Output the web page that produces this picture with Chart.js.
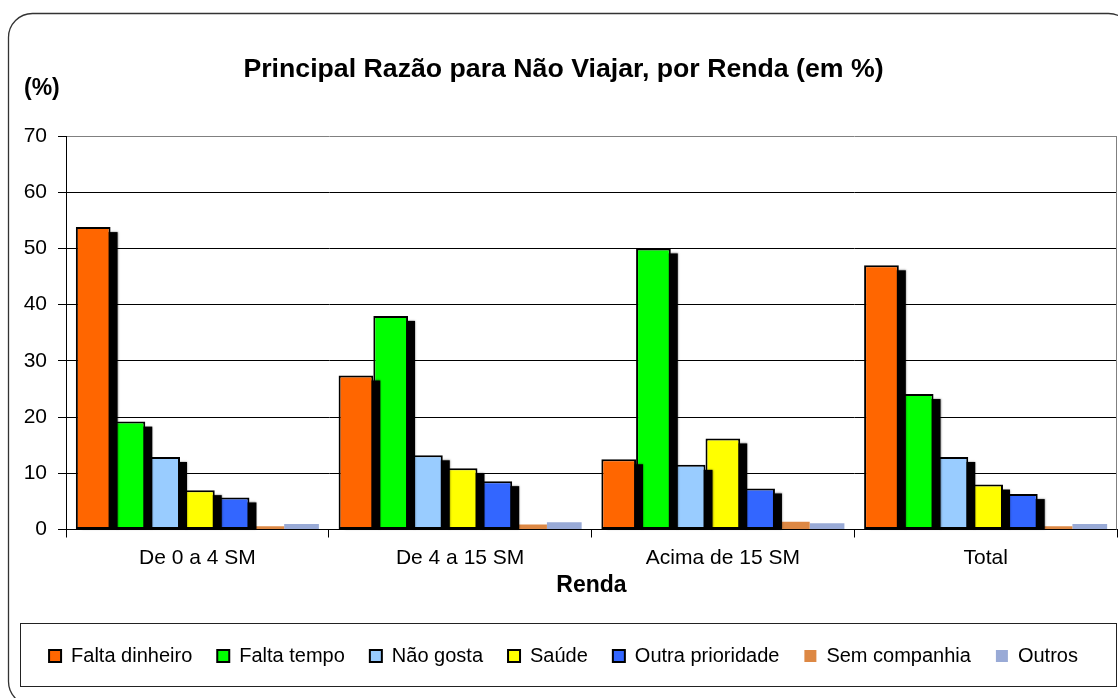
<!DOCTYPE html>
<html>
<head>
<meta charset="utf-8">
<script src="https://cdn.jsdelivr.net/npm/chart.js@4.4.1/dist/chart.umd.min.js"></script>
<style>
html,body{margin:0;padding:0;background:#fff;}
canvas{display:block;}
</style>
</head>
<body>
<canvas id="c" width="1118" height="698"></canvas>
<script>
const categories = ['De 0 a 4 SM', 'De 4 a 15 SM', 'Acima de 15 SM', 'Total'];
const faltaDinheiro   = [53.8, 27.4, 12.5, 47.0];
const faltaTempo      = [19.2, 38.0, 50.0, 24.1];
const naoGosta        = [12.9, 13.2, 11.5, 12.9];
const saude           = [7.0, 10.9, 16.2, 8.0];
const outraPrioridade = [5.7, 8.6, 7.3, 6.3];
const semCompanhia    = [0.6, 0.9, 1.4, 0.6];
const outros          = [1.0, 1.3, 1.1, 1.0];
const yTicks = [0, 10, 20, 30, 40, 50, 60, 70];

const FONT = "'Liberation Sans', Arial, sans-serif";

function ds(label, data, color, bordered) {
  return {
    label, data,
    backgroundColor: color,
    borderColor: bordered ? '#000' : color,
    borderWidth: bordered ? 2 : 0,
    shadow: bordered,
    borderSkipped: false
  };
}

const shadowPlugin = {
  id: 'barShadow',
  beforeDatasetDraw(chart, args) {
    const d = chart.data.datasets[args.index];
    if (!d.shadow) return;
    const ctx = chart.ctx;
    ctx.save();
    ctx.fillStyle = '#000';
    ctx.shadowColor = 'rgba(0,0,0,0.5)';
    ctx.shadowBlur = 2;
    args.meta.data.forEach(bar => {
      const p = bar.getProps(['x', 'y', 'width', 'base'], true);
      const top = Math.min(p.y, p.base) + 5;
      ctx.fillRect(p.x - p.width / 2 + 6, top, p.width + 1, p.base - top);
    });
    ctx.restore();
  }
};

const decorPlugin = {
  id: 'decor',
  afterDraw(chart) {
    const ctx = chart.ctx;
    const a = chart.chartArea;
    ctx.save();
    ctx.strokeStyle = '#808080';
    ctx.lineWidth = 1;
    ctx.beginPath();
    ctx.moveTo(Math.round(a.right) - 0.5, a.top);
    ctx.lineTo(Math.round(a.right) - 0.5, a.bottom);
    ctx.stroke();
    // legend frame
    ctx.strokeStyle = '#222';
    ctx.lineWidth = 1;
    ctx.strokeRect(20.5, 623.5, a.right - 21, 63);
    // outer rounded frame
    ctx.strokeStyle = '#333';
    ctx.lineWidth = 1.3;
    ctx.beginPath();
    ctx.roundRect(8.5, 13.5, 1124, 692, 24);
    ctx.stroke();
    // (%) label
    ctx.fillStyle = '#000';
    ctx.font = 'bold 23px ' + FONT;
    ctx.textAlign = 'left';
    ctx.textBaseline = 'middle';
    ctx.fillText('(%)', 24, 89);
    ctx.restore();
  }
};

new Chart(document.getElementById('c'), {
  type: 'bar',
  data: {
    labels: categories,
    datasets: [
      ds('Falta dinheiro', faltaDinheiro, '#FF6600', true),
      ds('Falta tempo', faltaTempo, '#00FF00', true),
      ds('Não gosta', naoGosta, '#99CCFF', true),
      ds('Saúde', saude, '#FFFF00', true),
      ds('Outra prioridade', outraPrioridade, '#3366FF', true),
      ds('Sem companhia', semCompanhia, '#DD8844', false),
      ds('Outros', outros, '#99AAD6', false)
    ]
  },
  options: {
    responsive: false,
    animation: false,
    devicePixelRatio: 1,
    layout: { padding: { left: 10, right: 1, top: 0, bottom: 22 } },
    datasets: { bar: { categoryPercentage: 0.925, barPercentage: 1.0 } },
    plugins: {
      tooltip: { enabled: false },
      title: {
        display: true,
        text: 'Principal Razão para Não Viajar, por Renda (em %)',
        color: '#000',
        font: { family: FONT, size: 26.7, weight: 'bold' },
        padding: { top: 54, bottom: 50 }
      },
      legend: {
        position: 'bottom',
        labels: {
          color: '#000',
          font: { family: FONT, size: 20 },
          boxWidth: 12,
          boxHeight: 12,
          padding: 25,
          generateLabels(chart) {
            return chart.data.datasets.map((d, i) => ({
              text: d.label,
              fillStyle: d.backgroundColor,
              strokeStyle: d.shadow ? '#000' : d.backgroundColor,
              lineWidth: d.shadow ? 2 : 0,
              hidden: false,
              datasetIndex: i,
              fontColor: '#000'
            }));
          }
        }
      }
    },
    scales: {
      x: {
        afterFit(scale) { scale.height = 91.5; },
        grid: { display: true, drawOnChartArea: false, drawTicks: true, tickLength: 8, offset: true, color: '#000' },
        border: { color: '#000', width: 1 },
        ticks: { color: '#000', font: { family: FONT, size: 21 }, padding: 8, maxRotation: 0 },
        title: { display: true, text: 'Renda', color: '#000', font: { family: FONT, size: 23, weight: 'bold' }, padding: { top: 4, bottom: 22 } }
      },
      y: {
        min: 0, max: 70,
        afterFit(scale) { scale.width = 56; },
        afterBuildTicks(scale) { scale.ticks = yTicks.map(v => ({ value: v })); },
        grid: {
          color: c => (c.tick && c.tick.value === 70) ? '#808080' : '#000',
          tickColor: '#000',
          tickLength: 8,
          lineWidth: 1
        },
        border: { color: '#000', width: 1 },
        ticks: { color: '#000', font: { family: FONT, size: 21 }, padding: 11 }
      }
    }
  },
  plugins: [shadowPlugin, decorPlugin]
});
</script>
</body>
</html>
